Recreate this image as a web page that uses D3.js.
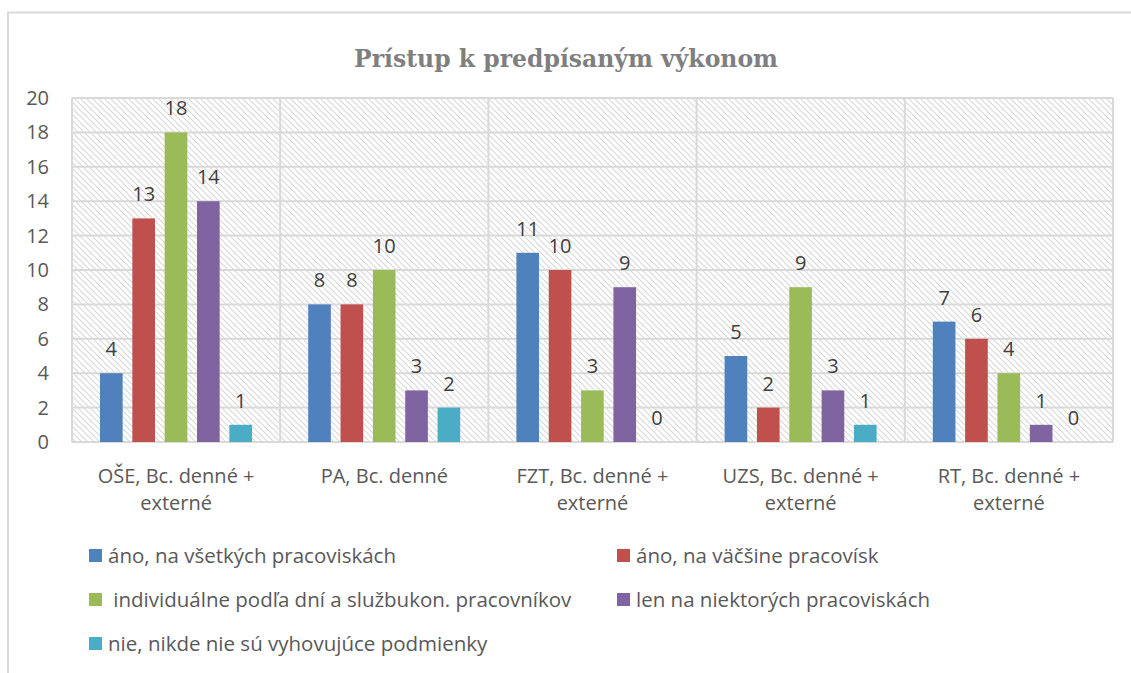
<!DOCTYPE html>
<html lang="sk">
<head>
  <meta charset="UTF-8">
  <title>Prístup k predpísaným výkonom</title>
  <script src="https://d3js.org/d3.v7.min.js"></script>
  <style>
    body { margin: 0; background: #fff; }
    svg { display: block; font-family: "Open Sans", sans-serif; }
  </style>
</head>
<body>
<svg id="chart" width="1131" height="673"></svg>
<script>
const categories = [
  ["OŠE, Bc. denné +", "externé"],
  ["PA, Bc. denné"],
  ["FZT, Bc. denné +", "externé"],
  ["UZS, Bc. denné +", "externé"],
  ["RT, Bc. denné +", "externé"]
];
const seriesNames = [
  "áno, na všetkých pracoviskách",
  "áno, na väčšine pracovísk",
  " individuálne podľa dní a službukon. pracovníkov",
  "len na niektorých pracoviskách",
  "nie, nikde nie sú vyhovujúce podmienky"
];
const colors = ["#4f81bd", "#c0504d", "#9bbb59", "#8064a2", "#4bacc6"];
const values = [
  [4, 8, 11, 5, 7],
  [13, 8, 10, 2, 6],
  [18, 10, 3, 9, 4],
  [14, 3, 9, 3, 1],
  [1, 2, 0, 1, 0]
];
const yTicks = [0, 2, 4, 6, 8, 10, 12, 14, 16, 18, 20];

const svg = d3.select("#chart");
const margin = {top: 98, left: 72, right: 1113, bottom: 442};

// šrafovanie plochy grafu
const pat = svg.append("defs").append("pattern")
  .attr("id", "hatch").attr("patternUnits", "userSpaceOnUse")
  .attr("width", 6).attr("height", 6);
pat.append("rect").attr("width", 6).attr("height", 6).attr("fill", "#fff");
pat.append("path").attr("d", "M-1,-1 L7,7 M-1,5 L1,7 M5,-1 L7,1")
  .attr("stroke", "#d9d9d9").attr("stroke-width", 1.1);

// vonkajší rámik
svg.append("path").attr("d", "M8,673 L8,12.5 L1131,12.5")
  .attr("fill", "none").attr("stroke", "#d9d9d9").attr("stroke-width", 2);

svg.append("text")
  .attr("x", 566).attr("y", 67).attr("text-anchor", "middle")
  .attr("font-family", "'DejaVu Serif', serif").attr("font-weight", "bold")
  .attr("font-size", 23.5).attr("fill", "#7f7f7f")
  .text("Prístup k predpísaným výkonom");

const x0 = d3.scaleBand().domain(d3.range(categories.length))
  .range([margin.left, margin.right]);
const x1 = d3.scaleBand().domain(d3.range(seriesNames.length))
  .range([28, 180]).paddingInner(0.3);
const y = d3.scaleLinear().domain([0, 20]).range([margin.bottom, margin.top]);

svg.append("rect")
  .attr("x", margin.left).attr("y", margin.top)
  .attr("width", margin.right - margin.left).attr("height", margin.bottom - margin.top)
  .attr("fill", "url(#hatch)");

// mriežka
svg.append("g").selectAll("line").data(yTicks).join("line")
  .attr("x1", margin.left).attr("x2", margin.right)
  .attr("y1", d => y(d)).attr("y2", d => y(d))
  .attr("stroke", "#d9d9d9").attr("stroke-width", 2);
svg.append("g").selectAll("line").data(d3.range(categories.length + 1)).join("line")
  .attr("x1", d => margin.left + d * x0.step()).attr("x2", d => margin.left + d * x0.step())
  .attr("y1", margin.top).attr("y2", margin.bottom)
  .attr("stroke", "#d9d9d9").attr("stroke-width", 2);

// os y
svg.append("g").selectAll("text").data(yTicks).join("text")
  .attr("x", 49).attr("y", d => y(d)).attr("dy", "0.35em")
  .attr("text-anchor", "end").attr("font-size", 20).attr("fill", "#595959")
  .text(d => d);

// stĺpce
const groups = svg.append("g").selectAll("g").data(values).join("g")
  .attr("fill", (_, i) => colors[i]);
groups.each(function(row, s) {
  const g = d3.select(this);
  g.selectAll("rect").data(row).join("rect")
    .attr("x", (_, c) => x0(c) + x1(s))
    .attr("y", d => y(d))
    .attr("width", x1.bandwidth())
    .attr("height", d => y(0) - y(d));
  g.selectAll("text").data(row).join("text")
    .attr("x", (_, c) => x0(c) + x1(s) + x1.bandwidth() / 2)
    .attr("y", d => y(d) - 17)
    .attr("text-anchor", "middle").attr("font-size", 20).attr("fill", "#404040")
    .text(d => d);
});

// kategórie
svg.append("g").selectAll("text").data(categories).join("text")
  .attr("x", (_, i) => x0(i) + x0.bandwidth() / 2)
  .attr("y", 483).attr("text-anchor", "middle")
  .attr("font-size", 20).attr("fill", "#595959")
  .each(function(lines) {
    d3.select(this).selectAll("tspan").data(lines).join("tspan")
      .attr("x", d3.select(this).attr("x"))
      .attr("dy", (_, k) => k ? 27 : 0)
      .text(d => d);
  });

// legenda
const legendPos = [[89, 556], [617, 556], [89, 600], [617, 600], [89, 644]];
const leg = svg.append("g").selectAll("g").data(seriesNames).join("g")
  .attr("transform", (_, i) => `translate(${legendPos[i][0]},${legendPos[i][1]})`);
leg.append("rect").attr("x", 0).attr("y", -7).attr("width", 13).attr("height", 13)
  .attr("fill", (_, i) => colors[i]);
leg.append("text").attr("x", 19).attr("dy", "0.35em")
  .attr("font-size", 20.5).attr("fill", "#595959")
  .style("white-space", "pre")
  .text(d => d);
</script>
</body>
</html>
